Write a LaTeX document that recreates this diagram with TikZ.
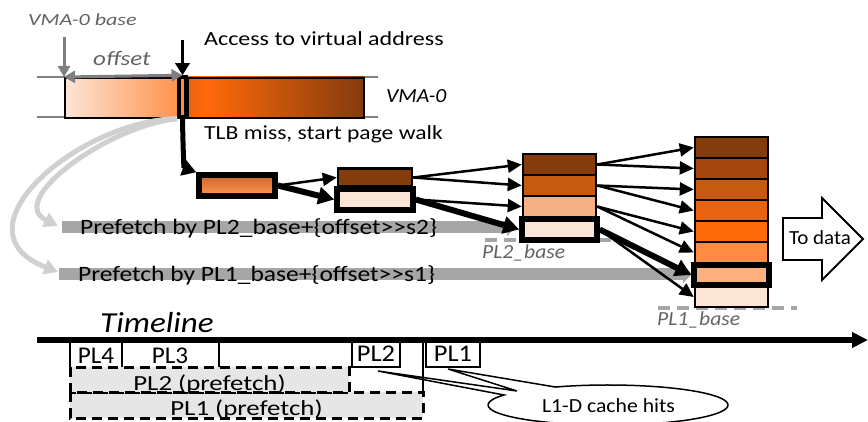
\documentclass[tikz,border=0pt]{standalone}
\usepackage{fontspec}
\setmainfont{Carlito}
\usepackage{graphicx}
\usetikzlibrary{arrows.meta,calc}
\definecolor{cdark}{HTML}{843C0C}
\definecolor{ctwo}{HTML}{A3460F}
\definecolor{cthree}{HTML}{C55A11}
\definecolor{cfour}{HTML}{E8620F}
\definecolor{cfive}{HTML}{FF6A0A}
\definecolor{csix}{HTML}{FF8C42}
\definecolor{cseven}{HTML}{FFB07F}
\definecolor{cpeach}{HTML}{FBE5D6}
\definecolor{clight}{HTML}{F4B183}
\definecolor{cbar}{HTML}{A6A6A6}
\definecolor{ccurve}{HTML}{D0D0D0}
\definecolor{cfill}{HTML}{E7E6E6}
\definecolor{ctext}{HTML}{636363}
\definecolor{cgray}{HTML}{7F7F7F}
\newcommand\Lbl[3]{\scalebox{#1}[1]{\fontsize{#2pt}{#2pt}\selectfont #3}}
\begin{document}
\begin{tikzpicture}[x=1pt,y=-1pt,
  lbl/.style={inner sep=0pt, anchor=base west},
  gtxt/.style={lbl, text=ctext},
  cell/.style={draw, line width=2.5pt, inner sep=0pt, minimum width=73pt, minimum height=21pt},
  tcell/.style={draw, line width=5.5pt, inner sep=0pt, minimum width=75pt, minimum height=21pt},
  thinarr/.style={line width=2.5pt, -{Triangle[length=14pt,width=13pt]}},
  thickarr/.style={line width=6pt, -{Triangle[length=16pt,width=17pt]}},
  grayarr/.style={draw=cgray, line width=3pt},
  curvarr/.style={draw=ccurve, line width=5pt, -{Triangle[length=14pt,width=15pt]}},
  bar/.style={draw=cbar, line width=12pt, -{Triangle[length=9pt,width=18pt]}},
  dashbox/.style={draw, fill=cfill, line width=3pt, dash pattern=on 10pt off 6pt},
  tlbox/.style={draw, line width=1.8pt, inner sep=0pt},
  baseline/.style={draw=cbar, line width=3.5pt, dash pattern=on 12pt off 7pt},
]
\useasboundingbox (0,0) rectangle (868,422);

% ---------- VMA-0 region ----------
\draw[cgray, line width=1.3pt] (37,77) -- (378,77);
\draw[cgray, line width=1.3pt] (37,117) -- (378,117);
\node[draw, line width=2pt, inner sep=0pt, minimum width=114pt, minimum height=40pt,
      anchor=north west, left color=cpeach, right color=csix!85!cseven] (vl) at (64,77) {};
\shade[left color=cfour, right color=cfive] (187,77) rectangle (205,117);
\shade[left color=cfive, right color=cdark] (205,77) rectangle (363,117);
\node[draw, line width=2pt, inner sep=0pt, minimum width=176pt, minimum height=40pt,
      anchor=north west] (vr) at (187,77) {};
\node[draw, line width=3.5pt, inner sep=0pt, minimum width=7pt, minimum height=40pt,
      fill=csix] (vm) at (182.5,97) {};

\node[gtxt] (vbase) at (28,26) {\Lbl{1.3}{17}{\itshape VMA-0 base}};
\coordinate (vbtop) at (64,37);
\draw[grayarr, -{Triangle[length=11pt,width=12pt]}] (vbtop) -- (vl.north west);
\node[gtxt] (off) at (93,66) {\Lbl{1.22}{20.5}{\itshape offset}};
\draw[grayarr, {Triangle[length=11pt,width=12pt]}-{Triangle[length=11pt,width=12pt]}] (vl.north west) -- (vm.north);
\coordinate (acc) at (182.5,40);
\draw[line width=3.5pt, -{Triangle[length=12pt,width=14pt]}] (acc) -- (vm.north);
\node[lbl] (acctxt) at (204,46) {\Lbl{1.2}{20}{Access to virtual address}};
\node[lbl] (vmatxt) at (386,103) {\Lbl{1.08}{20}{\itshape VMA-0}};
\node[lbl] (tlbtxt) at (204,140) {\Lbl{1.18}{20}{TLB miss, start page walk}};

% ---------- baselines and prefetch bars ----------
\coordinate (b2s) at (485,240); \coordinate (b2e) at (612,240);
\draw[baseline] (b2s) -- (b2e);
\coordinate (b1s) at (658,308); \coordinate (b1e) at (797,308);
\draw[baseline] (b1s) -- (b1e);

\draw[curvarr] (vm.south west) .. controls (110,125) and (5,200) .. (58,226);
\draw[curvarr] (vm.south west) .. controls (80,120) and (-50,230) .. (58,272);

\coordinate (p2s) at (62,227); \coordinate (p2e) at (516,227);
\draw[bar] (p2s) -- (p2e);
\coordinate (p1s) at (59,274); \coordinate (p1e) at (692,274);
\draw[bar] (p1s) -- (p1e);
\node[lbl] (pf2) at (80,235) {\Lbl{1.16}{22}{Prefetch by PL2\_base+\{offset>{}>s2\}}};
\node[lbl] (pf1) at (78,282) {\Lbl{1.16}{22}{Prefetch by PL1\_base+\{offset>{}>s1\}}};
\node[gtxt] (pl2b) at (482,259) {\Lbl{1.08}{20}{\itshape PL2\_base}};
\node[gtxt] (pl1b) at (657,325) {\Lbl{1.08}{20}{\itshape PL1\_base}};

% ---------- page walk boxes ----------
\node[tcell, minimum width=76pt, top color=cfour!85!black!90, bottom color=csix!70!cseven] (b1) at (237,185.5) {};
\node[cell, minimum width=74pt, minimum height=18pt, fill=cdark] (b2t) at (375,177.5) {};
\node[tcell, minimum width=76pt, fill=cpeach] (b2b) at (375,199.5) {};

\node[cell, fill=cdark]  (s2a) at (559.5,164.5) {};
\node[cell, fill=cthree] (s2b) at (559.5,185.5) {};
\node[cell, fill=clight] (s2c) at (559.5,206.5) {};
\node[tcell, fill=cpeach] (s2d) at (559.5,229.5) {};

\node[cell, fill=cdark]  (s1a) at (731.5,147.5) {};
\node[cell, fill=ctwo]   (s1b) at (731.5,168.5) {};
\node[cell, fill=cthree] (s1c) at (731.5,189.5) {};
\node[cell, fill=cfour]  (s1d) at (731.5,210.5) {};
\node[cell, fill=cfive]  (s1e) at (731.5,231.5) {};
\node[cell, fill=csix]   (s1f) at (731.5,252.5) {};
\node[cell, minimum height=20pt, fill=cpeach] (s1h) at (731.5,297) {};
\node[tcell, minimum height=20pt, fill=cseven] (s1g) at (731.5,275) {};

% ---------- walk arrows ----------
\draw[line width=5pt, -{Triangle[length=14pt,width=16pt]}] (vm.south) .. controls (183,150) and (184,168) .. (b1.north west);
\draw[thinarr] (b1.east) -- (b2t.west);
\draw[thickarr] (b1.east) -- (b2b.west);
\draw[thinarr] (b2t.east) -- (s2a.west);
\draw[thinarr] (b2t.east) -- (s2b.west);
\draw[thinarr] (b2b.east) -- (s2c.west);
\draw[thickarr] (b2b.east) -- (s2d.west);
\draw[thinarr] (s2a.east) -- (s1a.west);
\draw[thinarr] (s2a.east) -- (s1b.west);
\draw[thinarr] (s2b.east) -- (s1c.west);
\draw[thinarr] (s2b.east) -- (s1d.west);
\draw[thinarr] (s2c.east) -- (s1e.west);
\draw[thinarr] (s2c.east) -- (s1f.west);
\draw[thickarr] (s2d.east) -- (s1g.west);
\draw[thinarr] (s2d.east) -- (s1h.west);

% ---------- To data ----------
\draw[line width=1.8pt, fill=white] (783,218) -- (822,218) -- (822,198) -- (863,239) -- (822,280) -- (822,260) -- (783,260) -- cycle;
\node[lbl, anchor=base] (todata) at (820,245) {\Lbl{1.05}{20}{To data}};

% ---------- Timeline ----------
\node[lbl] (tltxt) at (100,332) {\Lbl{1.14}{29}{\itshape Timeline}};
\coordinate (tl0) at (37,340); \coordinate (tl1) at (868,340);
\draw[line width=5.5pt, -{Triangle[length=16pt,width=15pt]}] (tl0) -- (tl1);

\draw[line width=1.8pt] (70,340) -- (70,367);
\draw[line width=1.8pt] (122,340) -- (122,367);
\draw[line width=1.8pt] (219,340) -- (219,367);
\draw[line width=1.8pt] (423,340) -- (423,392);
\node[lbl, anchor=base] (tpl4) at (96,363) {\Lbl{1.05}{24}{PL4}};
\node[lbl, anchor=base] (tpl3) at (170,363) {\Lbl{1.05}{24}{PL3}};
\node[tlbox, minimum width=48pt, minimum height=27pt] (tpl2) at (376,353.5) {\Lbl{1.1}{24}{PL2}};
\node[tlbox, minimum width=54pt, minimum height=27pt] (tpl1) at (453,353.5) {\Lbl{1.1}{24}{PL1}};

\draw[dashbox] (70,392) rectangle (423,418);
\draw[dashbox] (70,367) rectangle (349,392);
\node[lbl, anchor=base] (pp2) at (209.5,390) {\Lbl{1.25}{21.5}{PL2 (prefetch)}};
\node[lbl, anchor=base] (pp1) at (246.5,415) {\Lbl{1.25}{21.5}{PL1 (prefetch)}};

% ---------- callout ----------
\coordinate (ec) at (608,405);
\fill[white] (ec) ellipse [x radius=120, y radius=20];
\coordinate (ea) at ($(ec)+(244:120 and 20)$);
\coordinate (w1) at (378,371);
\coordinate (wm) at (517,391);
\coordinate (w2) at (448,369);
\draw[line width=1.5pt] (ea) arc[start angle=244, end angle=570, x radius=120, y radius=20] -- (w1) -- (wm) -- (w2) -- (ea);
\node[lbl, anchor=base] (hits) at (608.5,412) {\Lbl{1.085}{20}{L1-D cache hits}};
\end{tikzpicture}
\end{document}
